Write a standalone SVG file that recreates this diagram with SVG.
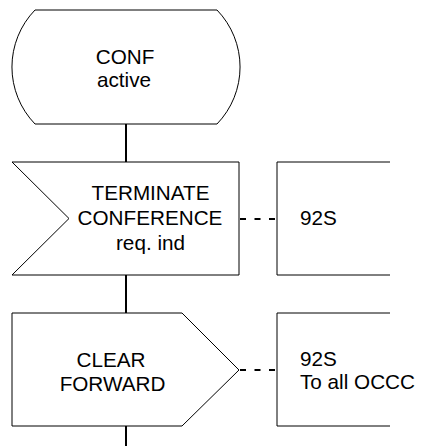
<svg xmlns="http://www.w3.org/2000/svg" width="423" height="446" viewBox="0 0 423 446">
<style>
.shape{fill:#fff;stroke:#000;stroke-width:1}
.comment{fill:none;stroke:#000;stroke-width:1}
.flow{stroke:#000;stroke-width:2;fill:none}
.dash{stroke:#000;stroke-width:2;fill:none;stroke-dasharray:6 8.5}
text{font-family:"Liberation Sans",Arial,sans-serif;font-size:20.7px;fill:#000}
.c{text-anchor:middle}
</style>
<rect width="423" height="446" fill="#fff"/>
<g id="connectors">
<line class="flow" x1="126" y1="124" x2="126" y2="162"/>
<line class="flow" x1="126" y1="275" x2="126" y2="313"/>
<line class="flow" x1="126" y1="426" x2="126" y2="446"/>
<line class="dash" x1="240" y1="219" x2="277" y2="219"/>
<line class="dash" x1="240" y1="370" x2="277" y2="370"/>
</g>
<g id="state-conf-active">
<path class="shape" d="M35,10 H217 A82,82 0 0 1 217,124 H35 A82,82 0 0 1 35,10 Z"/>
<text class="c" x="125" y="63.5">CONF</text>
<text class="c" x="124" y="87">active</text>
</g>
<g id="input-terminate-conference">
<polygon class="shape" points="12,162 239,162 239,275 12,275 69,218.5"/>
<text class="c" x="150.5" y="200">TERMINATE</text>
<text class="c" x="150" y="225">CONFERENCE</text>
<text class="c" x="150.5" y="250">req. ind</text>
</g>
<g id="comment-1">
<path class="comment" d="M390,162 H277 V275 H390"/>
<text x="300" y="225">92S</text>
</g>
<g id="output-clear-forward">
<polygon class="shape" points="12,313 182,313 239,370 182,426 12,426"/>
<text class="c" x="111" y="366.5">CLEAR</text>
<text class="c" x="112.5" y="390.5">FORWARD</text>
</g>
<g id="comment-2">
<path class="comment" d="M390,313 H277 V426 H390"/>
<text x="300" y="365.5">92S</text>
<text x="300" y="389">To all OCCC</text>
</g>
</svg>
